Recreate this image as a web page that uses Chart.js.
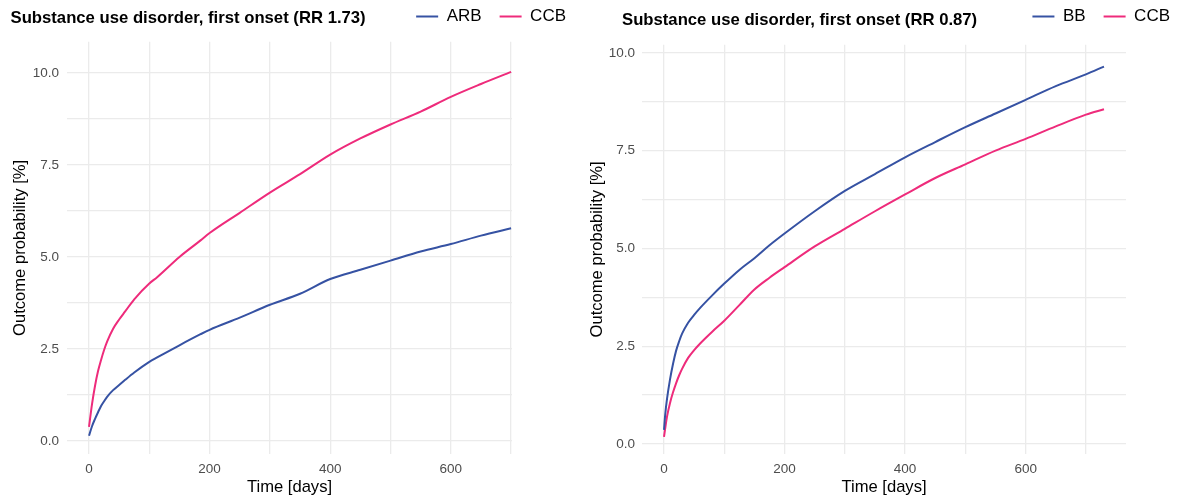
<!DOCTYPE html>
<html>
<head>
<meta charset="utf-8">
<script src="https://cdn.jsdelivr.net/npm/chart.js@4"></script>
<style>
  html, body { margin: 0; padding: 0; background: #fff; overflow: hidden; }
  body { width: 1183px; height: 502px; position: relative; }
  .panel { position: absolute; }
</style>
</head>
<body>
<div class="panel" style="left:0px; top:-10px; width:590px; height:512px;"><canvas id="left-chart"></canvas></div>
<div class="panel" style="left:575px; top:-10px; width:613px; height:512px;"><canvas id="right-chart"></canvas></div>
<script>
// left panel: ARB vs CCB
const leftDays = [0, 5, 10, 15, 20, 25, 30, 40, 50, 60, 75, 100, 113, 150, 185, 200, 250, 300, 350, 400, 450, 500, 550, 600, 650, 700];
const leftArb  = [0.14, 0.4, 0.6, 0.78, 0.95, 1.08, 1.2, 1.38, 1.52, 1.66, 1.86, 2.15, 2.27, 2.6, 2.9, 3.02, 3.35, 3.7, 4.0, 4.4, 4.65, 4.9, 5.15, 5.35, 5.58, 5.78];
const leftCcb  = [0.38, 1.0, 1.5, 1.9, 2.2, 2.47, 2.7, 3.05, 3.3, 3.52, 3.85, 4.28, 4.45, 5.0, 5.45, 5.65, 6.2, 6.75, 7.25, 7.78, 8.22, 8.6, 8.95, 9.35, 9.7, 10.03];

// right panel: BB vs CCB
const rightDays = [0, 2, 5, 10, 15, 20, 25, 30, 40, 50, 60, 80, 100, 125, 150, 175, 200, 250, 300, 350, 400, 450, 500, 550, 600, 650, 700, 730];
const rightBb   = [0.36, 0.75, 1.15, 1.65, 2.05, 2.38, 2.62, 2.82, 3.1, 3.3, 3.48, 3.8, 4.1, 4.45, 4.75, 5.08, 5.38, 5.95, 6.47, 6.9, 7.33, 7.72, 8.1, 8.45, 8.8, 9.15, 9.45, 9.65];
const rightCcb  = [0.18, 0.4, 0.7, 1.05, 1.32, 1.55, 1.75, 1.92, 2.2, 2.4, 2.57, 2.87, 3.15, 3.55, 3.95, 4.25, 4.52, 5.05, 5.5, 5.95, 6.38, 6.8, 7.15, 7.5, 7.8, 8.12, 8.42, 8.56];

// grid positions (labels only on every second one)
const xGridDays = [0, 100, 200, 300, 400, 500, 600, 700];
const xLabelDays = [0, 200, 400, 600];
const yGridValues = [0, 1.25, 2.5, 3.75, 5, 6.25, 7.5, 8.75, 10];
const yLabelValues = [0, 2.5, 5, 7.5, 10];

const leftTitle = "Substance use disorder, first onset (RR 1.73)";
const rightTitle = "Substance use disorder, first onset (RR 0.87)";
const xTitle = "Time [days]";
const yTitle = "Outcome probability [%]";

const BLUE = "#3652a3";
const PINK = "#ee2b7b";
const GRID = "#ebebeb";
const FONT = "'Liberation Sans', Arial, Helvetica, sans-serif";

let toPoints = (xs, ys) => xs.map((x, i) => ({x: x, y: ys[i]}));

let series = function(label, color, xs, ys){
    return {
        label: label,
        data: toPoints(xs, ys),
        borderColor: color,
        backgroundColor: color,
        borderWidth: 2,
        pointRadius: 0,
        pointStyle: 'line',
        fill: false,
        cubicInterpolationMode: 'monotone',
        tension: 0.4
    };
}

// bold title drawn on the same line as the legend
const panelTitle = {
    id: 'panelTitle',
    afterDraw(chart, args, opts){
        const ctx = chart.ctx;
        ctx.save();
        ctx.font = "bold 16.7px " + FONT;
        ctx.fillStyle = "#000";
        ctx.textBaseline = 'middle';
        ctx.textAlign = 'left';
        ctx.fillText(opts.text, opts.x, opts.y);
        ctx.restore();
    }
};

let makePanel = function(el, p){
    return new Chart(document.querySelector(el), {
        type: 'line',
        data: { datasets: p.datasets },
        plugins: [panelTitle],
        options: {
            responsive: true,
            maintainAspectRatio: false,
            animation: false,
            layout: { padding: { top: 0, right: p.padRight, bottom: 0, left: 0 } },
            plugins: {
                legend: {
                    position: 'top',
                    align: 'end',
                    labels: {
                        usePointStyle: true,
                        pointStyleWidth: 22,
                        padding: 18,
                        color: '#000',
                        font: { family: FONT, size: 17 }
                    }
                },
                tooltip: { enabled: false },
                panelTitle: { text: p.title, x: p.titleX, y: p.titleY }
            },
            scales: {
                x: {
                    type: 'linear',
                    min: p.xMin, max: p.xMax,
                    border: { display: false },
                    grid: { color: GRID, lineWidth: 1.3, drawTicks: false },
                    afterBuildTicks: s => { s.ticks = xGridDays.map(v => ({value: v})); },
                    ticks: {
                        autoSkip: false, maxRotation: 0,
                        padding: 7, color: '#4d4d4d', font: { family: FONT, size: 13.5 },
                        callback: v => (xLabelDays.includes(v) ? String(v) : '')
                    },
                    title: { display: true, text: xTitle, color: '#000', font: { family: FONT, size: 16.6 }, padding: { top: 0, bottom: 5 } },
                    afterFit: s => { s.height = 48; }
                },
                y: {
                    type: 'linear',
                    min: p.yMin, max: p.yMax,
                    border: { display: false },
                    grid: { color: GRID, lineWidth: 1.3, drawTicks: false },
                    afterBuildTicks: s => { s.ticks = yGridValues.map(v => ({value: v})); },
                    ticks: {
                        autoSkip: false,
                        padding: p.yPad, color: '#4d4d4d', font: { family: FONT, size: 13.5 },
                        callback: v => (yLabelValues.includes(v) ? v.toFixed(1) : '')
                    },
                    title: { display: true, text: yTitle, color: '#000', font: { family: FONT, size: 16.6 }, padding: { top: p.yTitlePad, bottom: 0 } },
                    afterFit: s => { s.width = 67; }
                },
                // spacers so the plot area sits where the reference has it
                xTop: {
                    type: 'linear', position: 'top', display: true,
                    grid: { display: false }, border: { display: false }, ticks: { display: false },
                    afterFit: s => { s.height = p.topGap; }
                },
                yRight: {
                    type: 'linear', position: 'right', display: true,
                    grid: { display: false }, border: { display: false }, ticks: { display: false },
                    afterFit: s => { s.width = p.rightGap; }
                }
            }
        }
    });
}

makePanel('#left-chart', {
    datasets: [series('ARB', BLUE, leftDays, leftArb), series('CCB', PINK, leftDays, leftCcb)],
    title: leftTitle, titleX: 10.5, titleY: 28,
    xMin: -36.5, xMax: 701.5, yMin: -0.355, yMax: 10.847,
    yPad: 8, yTitlePad: 10.4, padRight: 6, rightGap: 72, topGap: 6.8
});

makePanel('#right-chart', {
    datasets: [series('BB', BLUE, rightDays, rightBb), series('CCB', PINK, rightDays, rightCcb)],
    title: rightTitle, titleX: 47, titleY: 30,
    xMin: -36.5, xMax: 766.5, yMin: -0.257, yMax: 10.206,
    yPad: 7, yTitlePad: 12.4, padRight: 0, rightGap: 62, topGap: 9.8
});
</script>
</body>
</html>
